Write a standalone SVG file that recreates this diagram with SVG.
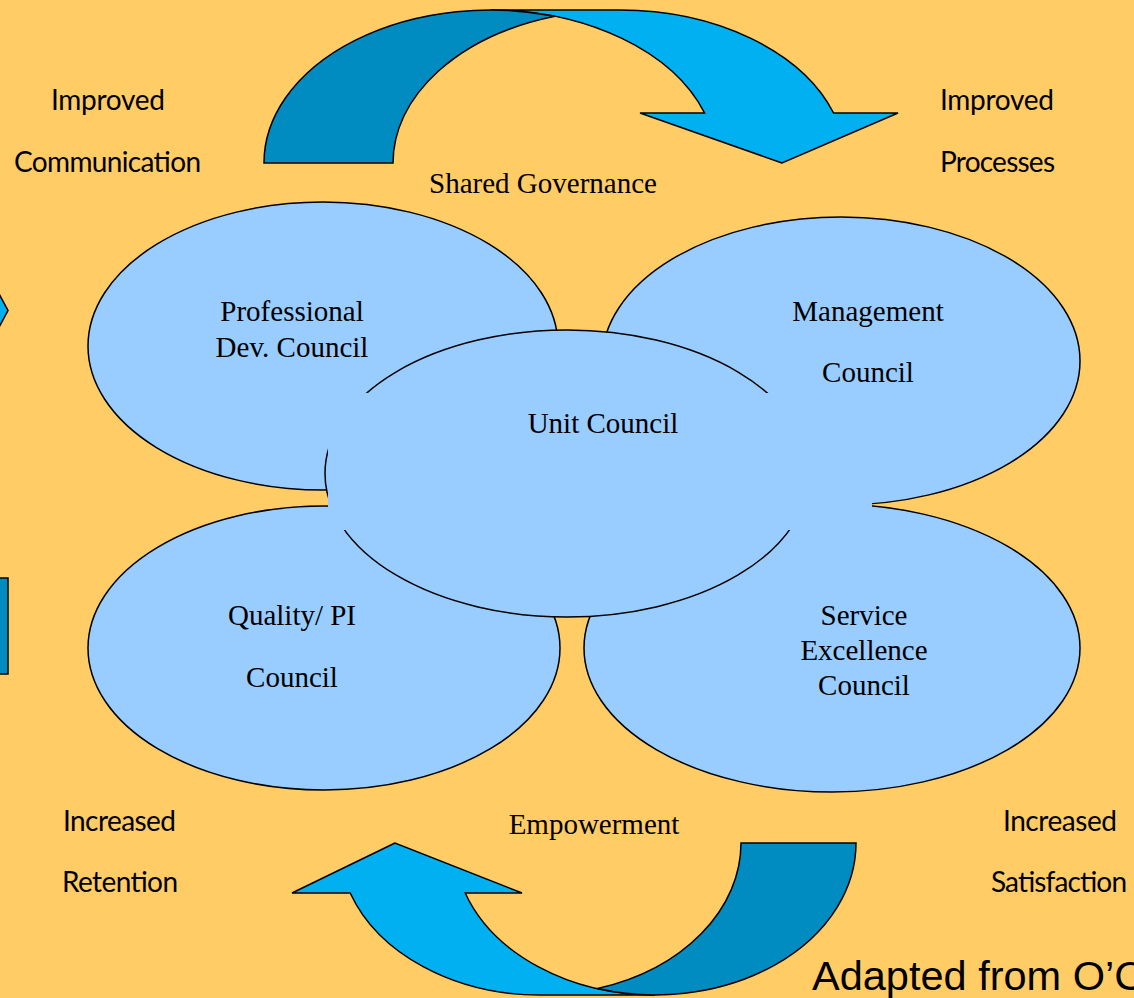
<svg xmlns="http://www.w3.org/2000/svg" width="1134" height="998" viewBox="0 0 1134 998">
  <style>
    .bg { fill: #FFCC66; }
    .council { fill: #99CCFF; stroke: #000; stroke-width: 1.5; }
    .patch { fill: #99CCFF; stroke: none; }
    .arrow-front { fill: #00B0F0; stroke: #000; stroke-width: 1.5; stroke-linejoin: miter; }
    .arrow-back { fill: #008CC0; stroke: #000; stroke-width: 1.5; stroke-linejoin: miter; }
    .serif { font-family: "Liberation Serif", "Times New Roman", serif; font-size: 29px; fill: #000; text-anchor: middle; }
    .sans { font-family: Lato, "Open Sans", sans-serif; font-size: 28px; fill: #000; }
    .credit { font-family: "Liberation Sans", Arial, sans-serif; font-size: 41.5px; fill: #000; }
  </style>

  <rect class="bg" x="0" y="0" width="1134" height="998"/>

  <!-- pieces of the side arrows that run off the left edge -->
  <g id="side-arrow-parts">
    <polygon class="arrow-front" points="-10,277 8,310.5 -10,344"/>
    <rect class="arrow-back" x="-10" y="578" width="18" height="96"/>
  </g>

  <!-- cycle arrows (top: curved down, bottom: curved up) -->
  <g id="connectors">
    <g id="arrow-top">
      <path class="arrow-front" d="M 782 163 L 640 113 L 704.6 113 A 226.5 153 0 0 0 490.5 10 L 619.5 10 A 226.5 153 0 0 1 833.6 113 L 898 113 Z"/>
      <path class="arrow-back" d="M 555 16.3 A 226.5 153 0 0 0 393 163 L 264 163 A 226.5 153 0 0 1 555 16.3 Z"/>
    </g>
    <g id="arrow-bottom">
      <path class="arrow-front" d="M 395 843 L 292 893 L 350.2 893 A 201 152 0 0 0 540 995 L 655 995 A 201 152 0 0 1 465.2 893 L 522 893 Z"/>
      <path class="arrow-back" d="M 856 843 A 201 152 0 0 1 597.5 988.6 A 201 152 0 0 0 741 843 Z"/>
    </g>
  </g>

  <g id="professional-dev-council">
    <ellipse class="council" cx="323" cy="346" rx="235" ry="144"/>
    <text class="serif" x="292" y="321">Professional</text>
    <text class="serif" x="292" y="357">Dev. Council</text>
  </g>

  <g id="management-council">
    <ellipse class="council" cx="841" cy="361" rx="239" ry="144"/>
    <text class="serif" x="868" y="321">Management</text>
    <text class="serif" x="868" y="382">Council</text>
  </g>

  <g id="quality-pi-council">
    <ellipse class="council" cx="324" cy="648" rx="236" ry="142"/>
    <text class="serif" x="292" y="625">Quality/ PI</text>
    <text class="serif" x="292" y="687">Council</text>
  </g>

  <g id="service-excellence-council">
    <ellipse class="council" cx="832" cy="648" rx="248" ry="144"/>
    <text class="serif" x="864" y="625">Service</text>
    <text class="serif" x="864" y="660">Excellence</text>
    <text class="serif" x="864" y="695">Council</text>
  </g>

  <g id="unit-council">
    <ellipse class="council" cx="567" cy="473.5" rx="242" ry="143.5"/>
    <!-- filled text box laid over the middle band -->
    <rect class="patch" x="328" y="393" width="544" height="137"/>
    <text class="serif" x="603" y="433">Unit Council</text>
  </g>

  <g id="labels">
    <text class="serif" x="543" y="193">Shared Governance</text>
    <text class="serif" x="594" y="834">Empowerment</text>
    <text class="sans" x="51" y="110" textLength="114">Improved</text>
    <text class="sans" x="14" y="172" textLength="187">Communication</text>
    <text class="sans" x="940" y="110" textLength="114">Improved</text>
    <text class="sans" x="940" y="172" textLength="115">Processes</text>
    <text class="sans" x="63" y="831" textLength="113">Increased</text>
    <text class="sans" x="62" y="892" textLength="116">Retention</text>
    <text class="sans" x="1003" y="831" textLength="114">Increased</text>
    <text class="sans" x="991" y="892" textLength="136">Satisfaction</text>
    <text class="credit" x="812" y="990">Adapted from O’C</text>
  </g>
</svg>
